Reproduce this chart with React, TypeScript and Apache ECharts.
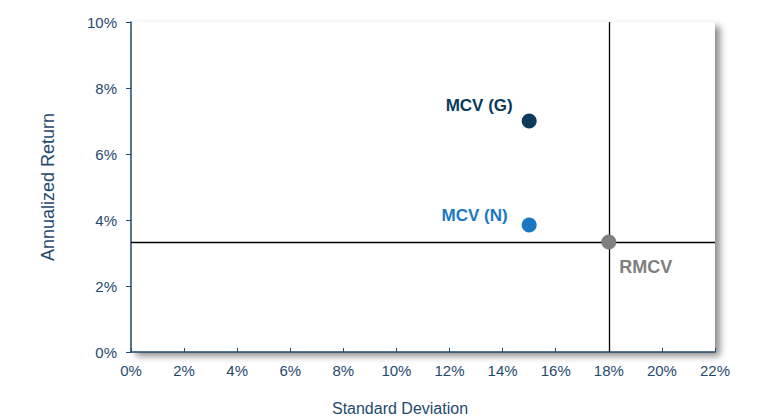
import React, { useEffect, useRef } from "react";
import * as echarts from "echarts";

const seriesNames = ["MCV (G)", "MCV (N)", "RMCV"];
const stdDev = [15.0, 15.0, 18.0];
const annReturn = [7.0, 3.85, 3.33];
const colors = ["#0b3a5b", "#1a78c2", "#7f7f7f"];
const xTicks = [0, 2, 4, 6, 8, 10, 12, 14, 16, 18, 20, 22];
const yTicks = [0, 2, 4, 6, 8, 10];
const crossX = 18.0;
const crossY = 3.33;
const xTitle = "Standard Deviation";
const yTitle = "Annualized Return";

export default function App() {
  const ref = useRef<HTMLDivElement>(null);
  useEffect(() => {
    if (!ref.current) return;
    const chart = echarts.init(ref.current, null, { renderer: "svg" });
    const axisColor = "#1f4a6e";
    const font = "Liberation Sans, Arial, sans-serif";
    const labelCfg: any[] = [
      { position: "left", distance: 9, offset: [0, -16], fontSize: 17 },
      { position: "left", distance: 14, offset: [0, -9], fontSize: 17 },
      { position: "right", distance: 3, offset: [0, 25], fontSize: 18 },
    ];
    const series: any[] = seriesNames.map((name, i) => ({
      type: "scatter",
      name,
      symbol: "circle",
      symbolSize: 15,
      z: 5,
      itemStyle: { color: colors[i], opacity: 1 },
      data: [[stdDev[i], annReturn[i]]],
      label: {
        show: true,
        formatter: name,
        color: colors[i],
        fontWeight: "bold",
        fontFamily: font,
        ...labelCfg[i],
      },
      markLine:
        i === 2
          ? {
              silent: true,
              symbol: "none",
              z: 3,
              label: { show: false },
              lineStyle: { color: "#000", width: 1.3, type: "solid" },
              data: [{ xAxis: crossX }, { yAxis: crossY }],
            }
          : undefined,
    }));
    chart.setOption({
      animation: false,
      backgroundColor: "#fff",
      grid: {
        left: 131,
        right: 50,
        top: 22,
        bottom: 65,
        show: true,
        backgroundColor: "#fff",
        borderWidth: 0,
        shadowColor: "rgba(0,0,0,0.45)",
        shadowBlur: 7,
        shadowOffsetX: 5,
        shadowOffsetY: 4,
      },
      graphic: [
        {
          type: "text",
          x: 400,
          y: 408,
          style: {
            text: xTitle,
            fill: axisColor,
            fontSize: 16,
            fontFamily: font,
            align: "center",
            verticalAlign: "middle",
          },
        },
        {
          type: "text",
          x: 48,
          y: 187,
          rotation: Math.PI / 2,
          style: {
            text: yTitle,
            fill: axisColor,
            fontSize: 18,
            fontFamily: font,
            align: "center",
            verticalAlign: "middle",
          },
        },
      ],
      xAxis: {
        type: "value",
        min: xTicks[0],
        max: xTicks[xTicks.length - 1],
        interval: 2,
        axisLine: { show: true, lineStyle: { color: axisColor, width: 1.5 } },
        axisTick: { show: true, inside: true, length: 4, lineStyle: { color: axisColor } },
        axisLabel: {
          color: axisColor,
          fontSize: 15,
          fontFamily: font,
          margin: 11,
          formatter: (v: number) => `${v}%`,
        },
        splitLine: { show: false },
      },
      yAxis: {
        type: "value",
        min: yTicks[0],
        max: yTicks[yTicks.length - 1],
        interval: 2,
        axisLine: { show: true, lineStyle: { color: axisColor, width: 1.5 } },
        axisTick: { show: true, inside: false, length: 5, lineStyle: { color: axisColor } },
        axisLabel: {
          color: axisColor,
          fontSize: 15,
          fontFamily: font,
          margin: 14,
          formatter: (v: number) => `${v}%`,
        },
        splitLine: { show: false },
      },
      series,
    });
    return () => chart.dispose();
  }, []);
  return <div ref={ref} style={{ width: 765, height: 417, position: "absolute", left: 0, top: 0 }} />;
}
